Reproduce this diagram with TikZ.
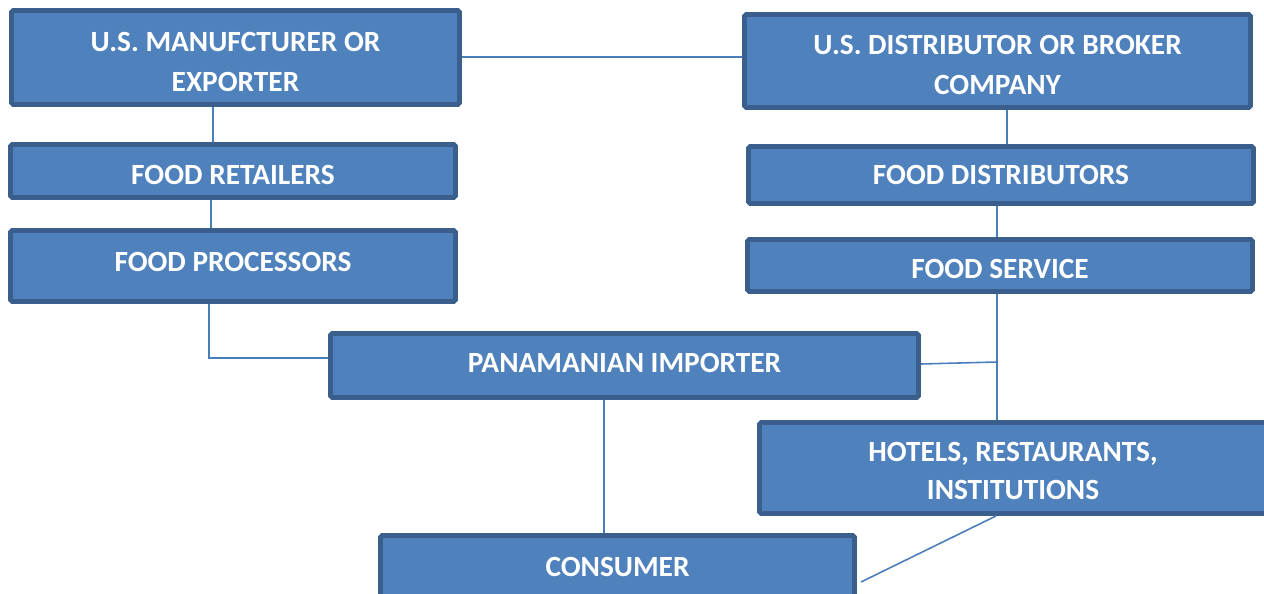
\documentclass[tikz,border=0pt]{standalone}
\usepackage{fontspec}
\setmainfont{Carlito}
\usepackage{tikz}
\usetikzlibrary{positioning}
\definecolor{boxfill}{HTML}{4F81BD}
\definecolor{boxedge}{HTML}{3A5F8C}
\definecolor{linkcol}{HTML}{4A7EBB}
\tikzset{
  chainbox/.style={draw=boxedge, fill=boxfill, line width=2.8pt, rounded corners=1pt,
    text=white, align=center, inner sep=0pt,
    font=\fontsize{16.7}{23}\selectfont\bfseries},
  link/.style={draw=linkcol, line width=0.9pt}
}
% struts that nudge a label down (padtop) or up (padbot) inside its box
\newcommand{\padtop}[1]{\rule{0pt}{#1}}
\newcommand{\padbot}[1]{\rule[-#1]{0pt}{#1}}

\begin{document}
\begin{tikzpicture}[x=0.02cm, y=-0.02cm]

\useasboundingbox (0,0) rectangle (1264,594);

% Left column
\node[chainbox, minimum width=448*0.02cm, minimum height=94*0.02cm] (maker) at (235.5,57.5) {\padtop{16.2pt}U.S. MANUFCTURER OR\\EXPORTER};
\node[chainbox, minimum width=445*0.02cm, minimum height=53*0.02cm] (retail) at (233,171) {\padtop{15.2pt}FOOD RETAILERS};
\node[chainbox, minimum width=445*0.02cm, minimum height=71*0.02cm] (process) at (233,266) {\padbot{4.6pt}FOOD PROCESSORS};

% Right column
\node[chainbox, minimum width=506*0.02cm, minimum height=93*0.02cm] (broker) at (997.5,61) {\padtop{15.2pt}U.S. DISTRIBUTOR OR BROKER\\COMPANY};
\node[chainbox, minimum width=505*0.02cm, minimum height=57*0.02cm] (distrib) at (1001,175) {FOOD DISTRIBUTORS};
\node[chainbox, minimum width=505*0.02cm, minimum height=52*0.02cm] (service) at (1000,265.5) {\padtop{15.2pt}FOOD SERVICE};
\node[chainbox, minimum width=507*0.02cm, minimum height=91*0.02cm] (hri) at (1013,468) {\padtop{14pt}HOTELS, RESTAURANTS,\\[-1.5pt]INSTITUTIONS};

% Middle
\node[chainbox, minimum width=588*0.02cm, minimum height=64*0.02cm] (importer) at (624.5,365.5) {\padbot{3.4pt}PANAMANIAN IMPORTER};
\node[chainbox, minimum width=474*0.02cm, minimum height=63*0.02cm] (consumer) at (617.5,567) {CONSUMER};

\coordinate (join) at (997,362);

% Connectors
\draw[link] (maker.east |- 0,57) -- (broker.west |- 0,57);
\draw[link] (maker.south -| 213,0) -- (retail.north -| 213,0);
\draw[link] (retail.south -| 211,0) -- (process.north -| 211,0);
\draw[link] (process.south -| 209,0) |- (importer.west |- 0,358);
\draw[link] (broker.south -| 1007,0) -- (distrib.north -| 1007,0);
\draw[link] (distrib.south -| 997,0) -- (service.north -| 997,0);
\draw[link] (service.south -| 997,0) -- (hri.north -| 997,0);
\draw[link] (importer.east |- 0,364) -- (join);
\draw[link] (importer.south -| 604,0) -- (consumer.north -| 604,0);
\draw[link] (hri.south -| 996,0) -- (861,582);

\end{tikzpicture}
\end{document}
